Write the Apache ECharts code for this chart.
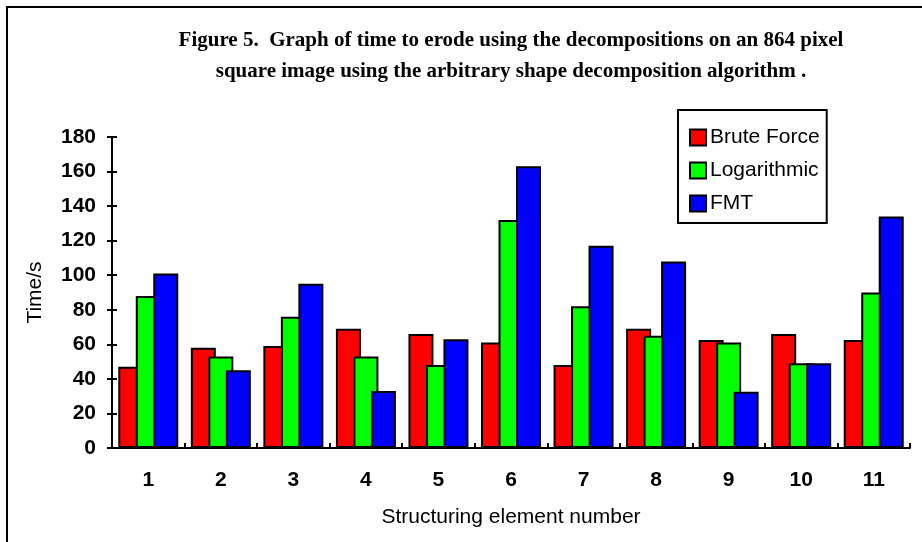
<!DOCTYPE html>
<html>
<head>
    <meta charset="utf-8">
    <script src="https://cdn.jsdelivr.net/npm/echarts@6/dist/echarts.min.js"></script>
</head>
<body style="margin:0">
    <div id="main" style="width: 922px;height:542px;"></div>
    <script type="text/javascript">

    var categories = ['1', '2', '3', '4', '5', '6', '7', '8', '9', '10', '11'];
    var bruteForce = [47, 58, 59, 69, 66, 61, 48, 69, 62.5, 66, 62.5];
    var logarithmic = [88, 53, 76, 53, 48, 132, 82, 65, 61, 49, 90];
    var fmt = [101, 45, 95, 33, 63, 163, 117, 108, 32.5, 49, 134];
    var yTicks = { min: 0, max: 180, interval: 20 };

    var sans = 'Liberation Sans, Arial, sans-serif';
    var myChart = echarts.init(document.getElementById('main'));

    function barSeries(name, data, color) {
        return {
            name: name,
            type: 'bar',
            data: data,
            barWidth: 25,
            barGap: '-30%',
            itemStyle: { color: color, borderColor: '#000', borderWidth: 2 }
        };
    }

    myChart.setOption({
        animation: false,
        backgroundColor: '#fff',
        graphic: [
            {
                type: 'rect',
                shape: { x: 7, y: 7, width: 940, height: 560 },
                style: { fill: 'none', stroke: '#000', lineWidth: 2 },
                silent: true
            },
            {
                type: 'text',
                x: 511,
                y: 25,
                style: {
                    text: 'Figure 5.  Graph of time to erode using the decompositions on an 864 pixel\nsquare image using the arbitrary shape decomposition algorithm .',
                    font: 'bold 21px "Liberation Serif", "Times New Roman", serif',
                    textAlign: 'center',
                    lineHeight: 31,
                    fill: '#000'
                }
            }
        ],
        legend: {
            orient: 'vertical',
            left: 678,
            top: 110,
            padding: [17, 7, 9, 11],
            itemWidth: 16,
            itemHeight: 16,
            itemGap: 12,
            icon: 'rect',
            borderColor: '#000',
            borderWidth: 2,
            backgroundColor: '#fff',
            textStyle: { fontFamily: sans, fontSize: 21, color: '#000', padding: [0, 0, 0, -1] },
            data: ['Brute Force', 'Logarithmic', 'FMT']
        },
        grid: { left: 112, right: 12, top: 137, bottom: 94 },
        xAxis: [
            {
                type: 'category',
                data: categories,
                name: 'Structuring element number',
                nameLocation: 'middle',
                nameGap: 59,
                nameTextStyle: { fontFamily: sans, fontSize: 21, color: '#000' },
                axisLine: { lineStyle: { color: '#000', width: 2 } },
                axisTick: { lineStyle: { color: '#000', width: 2 }, length: 5 },
                axisLabel: { fontFamily: sans, fontSize: 21, fontWeight: 'bold', color: '#000', margin: 22 }
            },
            {
                type: 'category',
                show: true,
                data: categories,
                position: 'bottom',
                offset: 0,
                z: 10,
                axisLine: { show: false },
                axisTick: { show: true, inside: true, lineStyle: { color: '#000', width: 2 }, length: 5 },
                axisLabel: { show: false }
            }
        ],
        yAxis: [
            {
                type: 'value',
                min: yTicks.min,
                max: yTicks.max,
                interval: yTicks.interval,
                name: 'Time/s',
                nameLocation: 'middle',
                nameGap: 66,
                nameTextStyle: { fontFamily: sans, fontSize: 21, color: '#000' },
                splitLine: { show: false },
                axisLine: { show: true, lineStyle: { color: '#000', width: 2 } },
                axisTick: { show: true, lineStyle: { color: '#000', width: 2 }, length: 5 },
                axisLabel: { fontFamily: sans, fontSize: 21, fontWeight: 'bold', color: '#000', margin: 16 }
            },
            {
                type: 'value',
                show: true,
                min: yTicks.min,
                max: yTicks.max,
                interval: yTicks.interval,
                position: 'left',
                offset: 0,
                z: 10,
                splitLine: { show: false },
                axisLine: { show: false },
                axisTick: { show: true, inside: true, lineStyle: { color: '#000', width: 2 }, length: 5 },
                axisLabel: { show: false }
            }
        ],
        series: [
            barSeries('Brute Force', bruteForce, '#ff0000'),
            barSeries('Logarithmic', logarithmic, '#00ff00'),
            barSeries('FMT', fmt, '#0000ff')
        ]
    });

</script>
</body>
</html>
